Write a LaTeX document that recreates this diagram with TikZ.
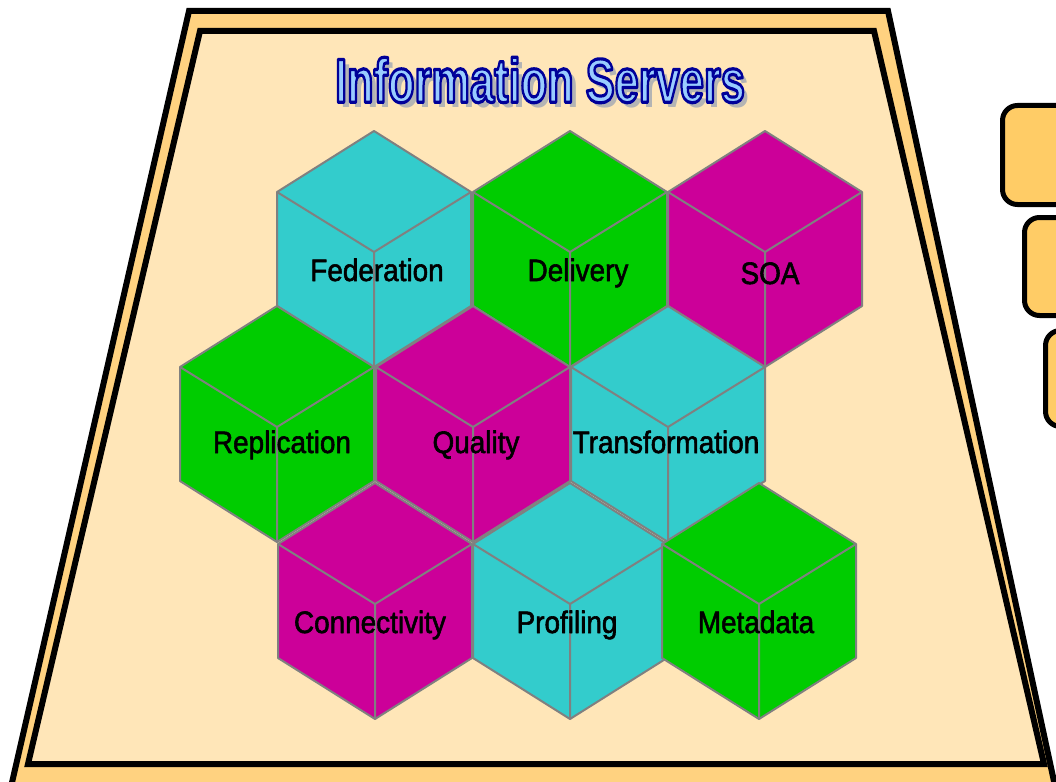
\documentclass[tikz,border=0pt]{standalone}
\usepackage{fontspec}
\setmainfont{Liberation Sans}
\usepackage{tikz}

\definecolor{paper}{HTML}{FFE6B8}
\definecolor{band}{HTML}{FFD280}
\definecolor{boxfill}{HTML}{FFCC66}
\definecolor{cubecyan}{HTML}{33CCCC}
\definecolor{cubegreen}{HTML}{00CC00}
\definecolor{cubemagenta}{HTML}{CC0099}
\definecolor{cubeedge}{HTML}{808080}
\definecolor{titlefill}{HTML}{99CCFF}
\definecolor{titleshadow}{HTML}{B4B4B4}

% one cube, top corner at (#1,#2)
\newcommand\drawcube[3]{%
  \begin{scope}[shift={(#1,#2)}]
    \filldraw[cubeline,fill=#3] (0,0) -- (97,61) -- (97,175) -- (0,236) -- (-97,175) -- (-97,61) -- cycle;
    \draw[cubeline] (-97,61) -- (0,121) -- (97,61) (0,121) -- (0,236);
  \end{scope}}
\newcommand\titletext{\scalebox{0.70}[1]{\fontsize{62}{70}\selectfont\bfseries Information Servers}}
% outlined letters: fill, then a dark blue stroke
\newcommand\outlined[1]{\special{pdf:literal direct 0 0 0.6 RG 3.2 w 1 j 2 Tr}#1\special{pdf:literal direct 0 Tr}}
% slightly heavier black letters for the cubes
\newcommand\heavy[1]{\special{pdf:literal direct 0 0 0 RG 0.6 w 1 j 2 Tr}#1\special{pdf:literal direct 0 Tr}}

\begin{document}
\begin{tikzpicture}[x=1pt,y=-1pt,line join=miter,
    cubeline/.style={draw=cubeedge,line width=2pt,line join=round},
    cubelabel/.style={font=\fontsize{31}{34}\selectfont,text=black,inner sep=0pt,anchor=base},
    frame/.style={draw=black,line width=6pt},
    sidebox/.style={draw=black,line width=5pt,fill=boxfill,rounded corners=15pt,anchor=north west,minimum width=90pt,inner sep=0pt},
    titlebit/.style={inner sep=0pt}]
  \useasboundingbox (0,0) rectangle (1056,781);
  \clip (0,0) rectangle (1056,781);
  \fill[white] (0,0) rectangle (1056,781);

  % the platform
  \filldraw[frame,fill=band] (189,11) -- (888,11) -- (1058,800) -- (8,800) -- cycle;
  \filldraw[frame,fill=paper] (200,31) -- (874,31) -- (1044,764) -- (28,764) -- cycle;

  % boxes on the right
  \node[sidebox,minimum height=99pt] (box1) at (1000,103) {};
  \node[sidebox,minimum height=98pt] (box2) at (1022,215) {};
  \node[sidebox,minimum height=96pt] (box3) at (1043,328) {};

  % title
  \node[titlebit,text=titleshadow] (shadow) at (545,85) {\titletext};
  \node[titlebit,text=titlefill] (title) at (540,80) {\outlined{\titletext}};

  % cubes
  \foreach \n/\px/\py/\c/\t/\dx/\dy in {
      fed/374/131/cubecyan/Federation/3/150,
      del/570/131/cubegreen/Delivery/8/150,
      soa/765/131/cubemagenta/SOA/5/153,
      rep/277/306/cubegreen/Replication/5/147,
      qua/473/306/cubemagenta/Quality/3/147,
      tra/668/306/cubecyan/Transformation/-2/147,
      con/375/483/cubemagenta/Connectivity/-5/150,
      pro/570/483/cubecyan/Profiling/-3/150,
      met/759/483/cubegreen/Metadata/-3/150} {
    \drawcube{\px}{\py}{\c}
    \node[cubelabel] (\n) at (\px+\dx,\py+\dy) {\heavy{\scalebox{0.9}[1]{\t}}};
  }
\end{tikzpicture}
\end{document}
